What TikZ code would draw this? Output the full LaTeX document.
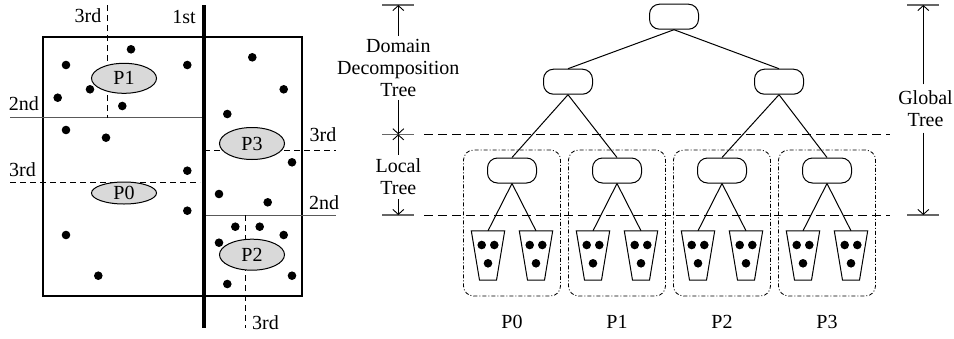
\documentclass[tikz,border=0pt]{standalone}
\usepackage{fontspec}
\setmainfont{Liberation Serif}
\usetikzlibrary{arrows.meta,calc,shapes.geometric}

\tikzset{
  txt/.style={font=\fontsize{20}{22}\selectfont, inner sep=0pt},
  part/.style={ellipse, draw, fill=black!15, line width=1pt, inner sep=0pt,
    minimum width=65pt, minimum height=30pt, font=\fontsize{20}{22}\selectfont},
  cutline/.style={dash pattern=on 6pt off 4pt, line width=0.9pt},
  splitline/.style={black!65, line width=1pt},
  tnode/.style={draw, rounded corners=10pt, minimum width=49pt, minimum height=25pt,
    line width=1pt, inner sep=0pt},
  edge/.style={line width=1pt},
  bucket/.style={minimum width=33pt, minimum height=49pt, inner sep=0pt},
  bucketline/.style={line width=1pt, line join=miter},
  procbox/.style={draw, dash pattern=on 4pt off 2pt on 1pt off 2pt, rounded corners=10pt,
    minimum width=97pt, minimum height=146pt, line width=0.8pt, inner sep=0pt},
  levelline/.style={dash pattern=on 9pt off 5pt, line width=0.9pt},
  dimline/.style={line width=0.9pt, -{Straight Barb[length=5pt,width=11pt,line width=0.9pt]}},
  tickline/.style={black!60, line width=1.3pt},
}

\newcommand\drawbucket[1]{%
  \draw[bucketline] (#1.north west) -- (#1.north east)
    -- ([xshift=-8.2pt]#1.south east) -- ([xshift=8.2pt]#1.south west) -- cycle;
  \fill ($(#1.center)+(-6.3,-10.5)$) circle[radius=4.3pt];
  \fill ($(#1.center)+(6.3,-10.5)$) circle[radius=4.3pt];
  \fill ($(#1.center)+(0,7.8)$) circle[radius=4.3pt];
}

\begin{document}
\begin{tikzpicture}[x=1pt,y=-1pt]
\useasboundingbox (0,0) rectangle (954,338);

% ---------- domain decomposition ----------
\draw[line width=1.8pt] (42.7,37.3) rectangle (302.3,295.7);

% cut lines
\draw[splitline] (10,117.7) -- (204,117.7);
\draw[splitline] (204,215) -- (336,215);
\draw[cutline] (107.3,5) -- (107.3,117.7);
\draw[cutline] (10,182.7) -- (200,182.7);
\draw[cutline] (204,150.3) -- (336,150.3);
\draw[cutline] (245,215) -- (245,328);
\draw[line width=3.2pt] (204,5) -- (204,328);

% cut labels
\node[txt] (c1) at (184,17) {1st};
\node[txt] (c2a) at (24,104) {2nd};
\node[txt] (c2b) at (324,203) {2nd};
\node[txt] (c3a) at (88,15.5) {3rd};
\node[txt] (c3b) at (22.5,169.5) {3rd};
\node[txt] (c3c) at (323,135) {3rd};
\node[txt] (c3d) at (265.5,322.5) {3rd};

% particles
\foreach \x/\y in {131/49.3, 66/65, 187.3/65, 90/89.3, 57.7/97.7, 122.3/106,
  66/130, 106/137.7, 187.3/170.7, 187.3/210.7, 66/235, 98.3/275.7,
  252.3/57.3, 283.7/89.3, 227.3/114, 292/162.3, 219/194, 267.7/202.3,
  235.3/226.7, 259.7/226.7, 283.7/235, 219/242.7, 292/275.7, 227.3/284}
  \fill (\x,\y) circle[radius=4.3pt];

% processor regions
\node[part] (p1) at (124,78.3) {P1};
\node[part, minimum height=22pt] (p0) at (124,193) {P0};
\node[part, minimum height=32pt] (p3) at (252,143.5) {P3};
\node[part, minimum height=31pt] (p2) at (252,254.7) {P2};

% ---------- tree ----------
\draw[levelline] (424,134.3) -- (890,134.3);
\draw[levelline] (424,215) -- (890,215);

\node[tnode] (root) at (674,16.7) {};
\node[tnode] (na) at (568,81.7) {};
\node[tnode] (nb) at (779,81.7) {};
\draw[edge] (root.south) -- (na.north);
\draw[edge] (root.south) -- (nb.north);

\foreach \i/\x in {0/512,1/617,2/722,3/827} {
  \node[procbox] (box\i) at (\x,223) {};
  \node[tnode, fill=white] (loc\i) at (\x,170.5) {};
  \node[bucket] (bl\i) at (\x-24,255.5) {};
  \node[bucket] (br\i) at (\x+24,255.5) {};
  \drawbucket{bl\i}
  \drawbucket{br\i}
  \draw[edge] (loc\i.south) -- (bl\i.north);
  \draw[edge] (loc\i.south) -- (br\i.north);
  \node[txt] (lab\i) at (\x,322) {P\i};
}
\draw[edge] (na.south) -- (loc0.north);
\draw[edge] (na.south) -- (loc1.north);
\draw[edge] (nb.south) -- (loc2.north);
\draw[edge] (nb.south) -- (loc3.north);

% ---------- extent markers ----------
\coordinate (dt) at (398.3,5);
\coordinate (dm) at (398.3,134.3);
\coordinate (db) at (398.3,215);
\coordinate (gt) at (923.3,5);
\coordinate (gb) at (923.3,215);
\draw[tickline] ($(dt)+(-16,0)$) -- ($(dt)+(16,0)$);
\draw[tickline] ($(dm)+(-16,0)$) -- ($(dm)+(16,0)$);
\draw[tickline] ($(db)+(-16,0)$) -- ($(db)+(16,0)$);
\draw[tickline] ($(gt)+(-16,0)$) -- ($(gt)+(16,0)$);
\draw[tickline] ($(gb)+(-16,0)$) -- ($(gb)+(16,0)$);

\node[txt, align=center, inner sep=3pt] (ddt) at (398.3,68)
  {Domain\\Decomposition\\Tree};
\node[txt, align=center, inner sep=4pt] (lt) at (398.3,177) {Local\\Tree};
\node[txt, align=center, inner sep=6pt] (glt) at (925.5,108.5) {Global\\Tree};

\draw[dimline] (ddt.north) -- (dt);
\draw[dimline] (ddt.south) -- (dm);
\draw[dimline] (lt.north) -- (dm);
\draw[dimline] (lt.south) -- (db);
\draw[dimline] (glt.north -| gt) -- (gt);
\draw[dimline] (glt.south -| gt) -- (gb);
\end{tikzpicture}
\end{document}
